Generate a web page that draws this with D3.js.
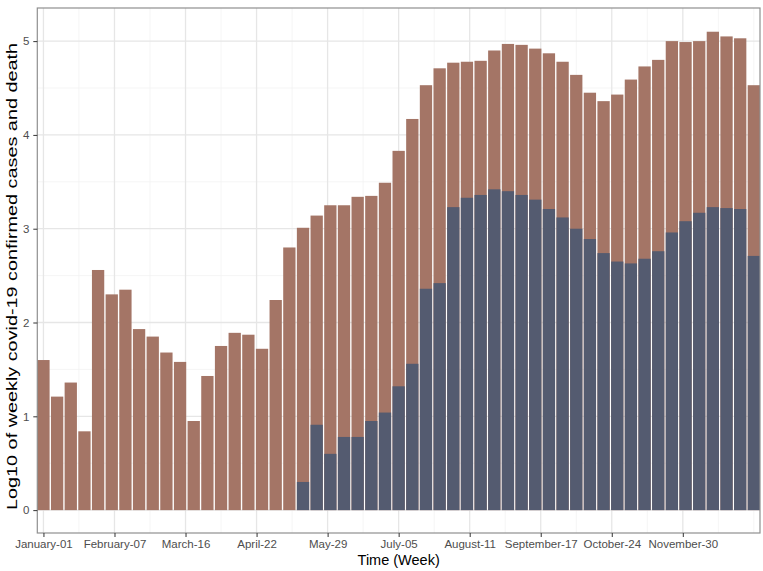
<!DOCTYPE html>
<html>
<head>
<meta charset="utf-8">
<script src="https://cdn.jsdelivr.net/npm/d3@7"></script>
<style>
  body { margin: 0; background: #fff; }
  text { font-family: "Liberation Sans", Arial, sans-serif; }
</style>
</head>
<body>
<div id="chart"></div>
<script>
// chart size and panel placement
const width = 763;
const height = 571;
const margin = {left: 37.3, right: 3, top: 8, bottom: 38};

// week index of each bar (0 = first week of January)
const weeks = [0,1,2,3,4,5,6,7,8,9,10,11,12,13,14,15,16,17,18,19,20,21,22,23,24,25,
  26,27,28,29,30,31,32,33,34,35,36,37,38,39,40,41,42,43,44,45,46,47,48,49,50,51,52];

// log10 of weekly confirmed cases
const cases = [1.60,1.21,1.36,0.84,2.56,2.30,2.35,1.93,1.85,1.68,1.58,0.95,1.43,1.75,
  1.89,1.87,1.72,2.24,2.80,3.01,3.14,3.25,3.25,3.34,3.35,3.49,3.83,4.17,4.53,4.71,4.77,
  4.78,4.79,4.90,4.97,4.96,4.92,4.87,4.78,4.64,4.45,4.36,4.43,4.59,4.73,4.80,5.00,4.99,
  5.00,5.10,5.05,5.03,4.53];

// log10 of weekly deaths (none reported before week 19)
const deaths = [null,null,null,null,null,null,null,null,null,null,null,null,null,null,
  null,null,null,null,null,0.30,0.91,0.60,0.78,0.78,0.95,1.04,1.32,1.56,2.36,2.42,3.23,
  3.33,3.36,3.42,3.40,3.36,3.31,3.21,3.12,3.00,2.89,2.74,2.65,2.63,2.68,2.76,2.96,3.08,
  3.17,3.23,3.22,3.21,2.71];

// x axis breaks (in weeks) and their labels
const xBreaks = [0, 5.2, 10.4, 15.6, 20.8, 26, 31.2, 36.4, 41.6, 46.8];
const xLabels = ["January-01","February-07","March-16","April-22","May-29","July-05",
  "August-11","September-17","October-24","November-30"];
const xMinor = [2.6, 7.8, 13, 18.2, 23.4, 28.6, 33.8, 39, 44.2, 49.4, 52];

const yBreaks = [0, 1, 2, 3, 4, 5];
const yMinor = [0.5, 1.5, 2.5, 3.5, 4.5];

const caseColor = "#a47566";
const deathColor = "#545b70";

const svg = d3.select("#chart")
  .append("svg")
  .attr("width", width)
  .attr("height", height);

svg.append("rect").attr("width", width).attr("height", height).attr("fill", "#fff");

// scales
const x = d3.scaleLinear()
  .domain([-0.45, 52.45])
  .range([margin.left, width - margin.right]);

const y = d3.scaleLinear()
  .domain([-0.244, 5.353])
  .range([height - margin.bottom, margin.top]);

const barW = x(0.9) - x(0);

// grid lines
const grid = svg.append("g");
grid.selectAll(".ymin").data(yMinor).enter().append("line")
  .attr("x1", x.range()[0]).attr("x2", x.range()[1])
  .attr("y1", d => y(d)).attr("y2", d => y(d))
  .attr("stroke", "#f2f2f2").attr("stroke-width", 0.8);
grid.selectAll(".xmin").data(xMinor).enter().append("line")
  .attr("y1", y.range()[0]).attr("y2", y.range()[1])
  .attr("x1", d => x(d)).attr("x2", d => x(d))
  .attr("stroke", "#f2f2f2").attr("stroke-width", 0.8);
grid.selectAll(".ymaj").data(yBreaks).enter().append("line")
  .attr("x1", x.range()[0]).attr("x2", x.range()[1])
  .attr("y1", d => y(d)).attr("y2", d => y(d))
  .attr("stroke", "#e6e6e6").attr("stroke-width", 1.3);
grid.selectAll(".xmaj").data(xBreaks).enter().append("line")
  .attr("y1", y.range()[0]).attr("y2", y.range()[1])
  .attr("x1", d => x(d)).attr("x2", d => x(d))
  .attr("stroke", "#e6e6e6").attr("stroke-width", 1.3);

// bars: cases first, deaths drawn on top
svg.append("g").selectAll("rect")
  .data(weeks)
  .enter()
  .append("rect")
    .attr("x", d => x(d) - barW / 2)
    .attr("y", d => y(cases[d]))
    .attr("width", barW)
    .attr("height", d => y(0) - y(cases[d]))
    .attr("fill", caseColor);

svg.append("g").selectAll("rect")
  .data(weeks.filter(d => deaths[d] != null))
  .enter()
  .append("rect")
    .attr("x", d => x(d) - barW / 2)
    .attr("y", d => y(deaths[d]))
    .attr("width", barW)
    .attr("height", d => y(0) - y(deaths[d]))
    .attr("fill", deathColor);

// panel border
svg.append("rect")
  .attr("x", x.range()[0]).attr("y", y.range()[1])
  .attr("width", x.range()[1] - x.range()[0])
  .attr("height", y.range()[0] - y.range()[1])
  .attr("fill", "none")
  .attr("stroke", "#8f8f8f")
  .attr("stroke-width", 1.2);

// axes
const xAxis = svg.append("g")
  .attr("transform", `translate(0,${height - margin.bottom})`)
  .call(d3.axisBottom(x).tickValues(xBreaks).tickFormat((d, i) => xLabels[i])
        .tickSize(4).tickPadding(3));
const yAxis = svg.append("g")
  .attr("transform", `translate(${margin.left},0)`)
  .call(d3.axisLeft(y).tickValues(yBreaks).tickFormat(d3.format("d"))
        .tickSize(4).tickPadding(4));

[xAxis, yAxis].forEach(a => {
  a.select(".domain").remove();
  a.selectAll(".tick line").attr("stroke", "#333").attr("stroke-width", 1);
  a.selectAll(".tick text")
    .attr("fill", "#4d4d4d")
    .attr("font-size", "11.5px")
    .attr("font-family", "Liberation Sans, Arial, sans-serif");
});

// axis titles
svg.append("text")
  .attr("x", (x.range()[0] + x.range()[1]) / 2)
  .attr("y", 565)
  .attr("text-anchor", "middle")
  .attr("font-size", "14.5px")
  .attr("fill", "#000")
  .text("Time (Week)");

// the y title is drawn long and narrow, as in the original
svg.append("text")
  .attr("transform", "translate(17.3,276.5) rotate(-90)")
  .attr("text-anchor", "middle")
  .attr("font-size", "14px")
  .attr("textLength", 467)
  .attr("lengthAdjust", "spacingAndGlyphs")
  .attr("fill", "#000")
  .text("Log10 of weekly covid-19 confirmed cases and death");
</script>
</body>
</html>
